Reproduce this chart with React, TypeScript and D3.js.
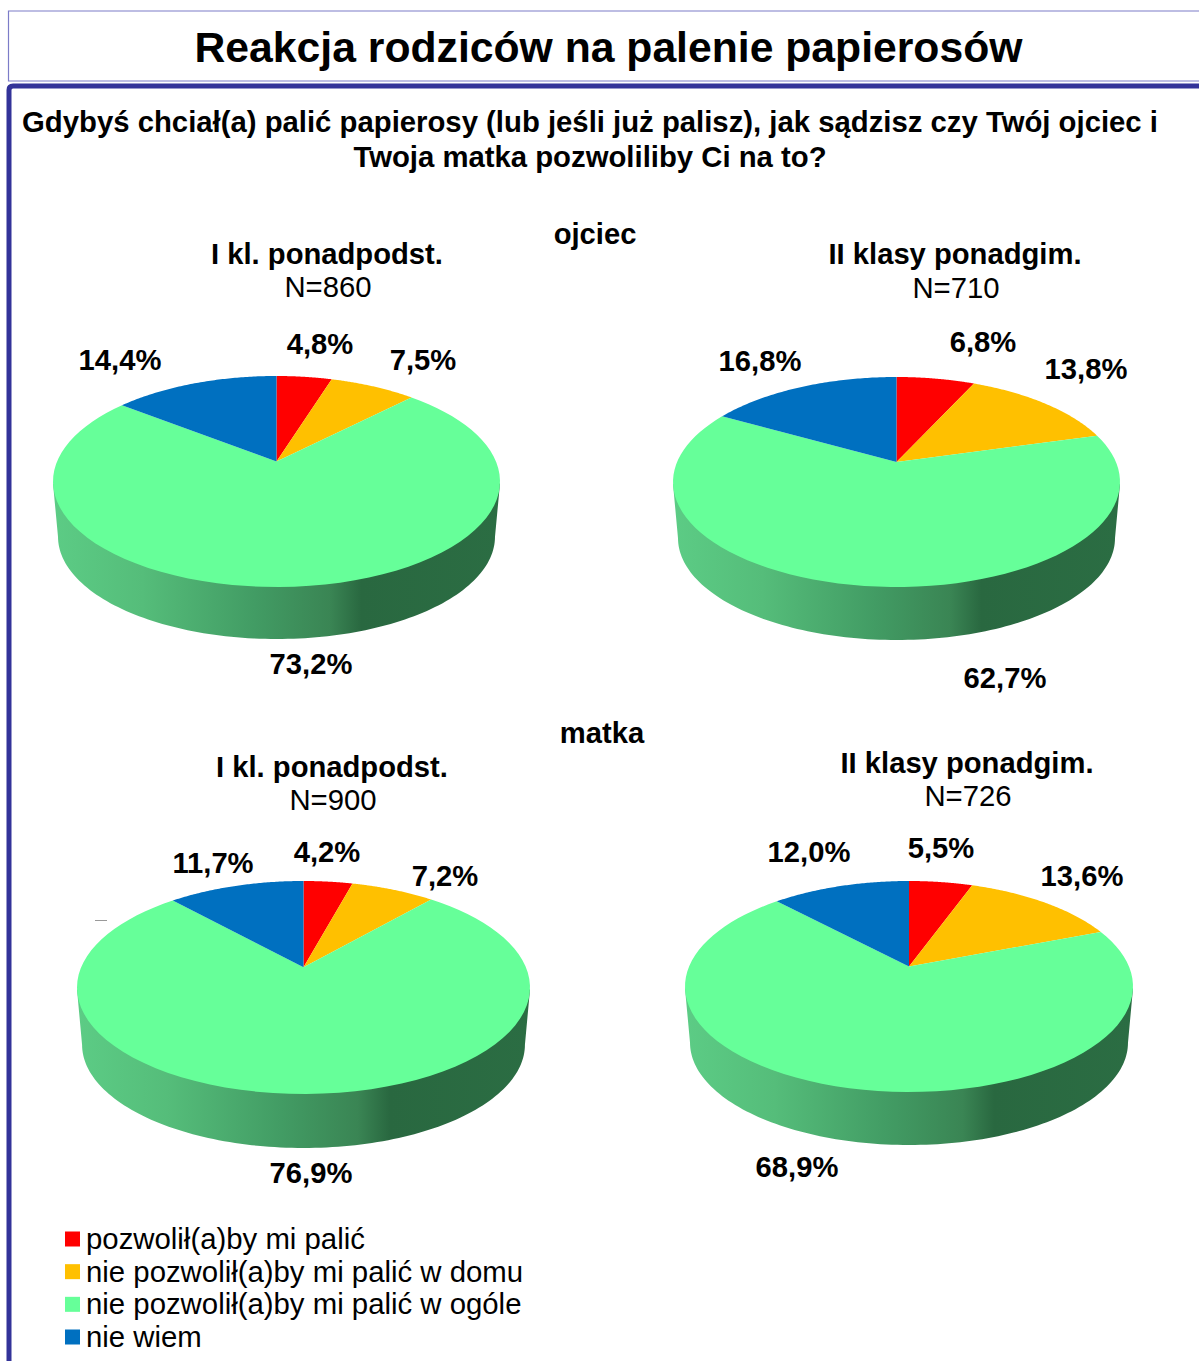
import React from "react";
import * as d3 from "d3";

const FONT = "'Liberation Sans', Arial, sans-serif";
const W = 1199;
const H = 1361;

const categories = ["pozwolił(a)by mi palić", "nie pozwolił(a)by mi palić w domu", "nie pozwolił(a)by mi palić w ogóle", "nie wiem"];
const colors = ["#ff0000", "#ffc000", "#66ff99", "#0070c0"];

const fatherPrimary = [4.8, 7.5, 73.2, 14.4];
const fatherSecondary = [6.8, 13.8, 62.7, 16.8];
const motherPrimary = [4.2, 7.2, 76.9, 11.7];
const motherSecondary = [5.5, 13.6, 68.9, 12.0];

const fmt = (v: number) => v.toFixed(1).replace(".", ",") + "%";

type Pt = [number, number];
type PieCfg = {
  id: string; values: number[]; left: number; right: number; top: number; faceBottom: number; bottom: number;
  title: string; titleX: number; titleY: number; n: string; nY: number; labels: Pt[];
};

const pies: PieCfg[] = [
  { id: "p1", values: fatherPrimary, left: 53, right: 500, top: 376, faceBottom: 587, bottom: 639,
    title: "I kl. ponadpodst.", titleX: 327, titleY: 264, n: "N=860", nY: 297,
    labels: [[320, 354], [423, 370], [311, 674], [120, 370]] },
  { id: "p2", values: fatherSecondary, left: 673, right: 1120, top: 377, faceBottom: 587, bottom: 640,
    title: "II klasy ponadgim.", titleX: 955, titleY: 264, n: "N=710", nY: 298,
    labels: [[983, 352], [1086, 379], [1005, 688], [760, 371]] },
  { id: "p3", values: motherPrimary, left: 77, right: 530, top: 881, faceBottom: 1094, bottom: 1148,
    title: "I kl. ponadpodst.", titleX: 332, titleY: 777, n: "N=900", nY: 810,
    labels: [[327, 862], [445, 886], [311, 1183], [213, 873]] },
  { id: "p4", values: motherSecondary, left: 685, right: 1133, top: 881, faceBottom: 1092, bottom: 1145,
    title: "II klasy ponadgim.", titleX: 967, titleY: 773, n: "N=726", nY: 806,
    labels: [[941, 858], [1082, 886], [797, 1177], [809, 862]] },
];

const LEAN = 0.19;
const order = [0, 1, 2, 3];

function Pie3D({ cfg }: { cfg: PieCfg }) {
  const cy = (cfg.top + cfg.faceBottom) / 2;
  const x = d3.scaleLinear().domain([-1, 1]).range([cfg.left, cfg.right]);
  const y = d3.scaleLinear().domain([-1, 1]).range([cfg.top, cfg.faceBottom]);
  const project = (t: number): Pt => {
    const u = Math.sin(t), v = -Math.cos(t);
    const d = 1 - LEAN * v;
    return [x((u * Math.sqrt(1 - LEAN * LEAN)) / d), y((v - LEAN) / d)];
  };
  const apex: Pt = [x(0), y(-LEAN)];
  const line = d3.line<Pt>();
  const arcs = d3.pie<number>().sort(null).value((v) => v)(cfg.values);

  const sliceD = (a: d3.PieArcDatum<number>) => {
    const span = d3.range(0, 81).map((i) => project(a.startAngle + ((a.endAngle - a.startAngle) * i) / 80));
    return line([apex, ...span]) + "Z";
  };

  const inset = (cfg.right - cfg.left) * 0.0112;
  const wx = d3.scaleLinear().domain([-1, 1]).range([cfg.left + inset, cfg.right - inset]);
  const wallRy = ((cfg.faceBottom - cfg.top) / 2) * 0.97;
  const wallCy = cfg.bottom - wallRy;
  const lower: Pt[] = d3.range(0, 121).map((i) => {
    const t = Math.PI * (i / 120);
    return [wx(-Math.cos(t)), wallCy + wallRy * Math.sin(t)];
  });
  const wallD = line([[cfg.left, cy + 2], ...lower, [cfg.right, cy + 2]]) + "Z";

  return (
    <g>
      <defs>
        <linearGradient id={"wall-" + cfg.id} gradientUnits="userSpaceOnUse" x1={cfg.left} x2={cfg.right} y1="0" y2="0">
          <stop offset="0" stopColor="#5ccc85" />
          <stop offset="0.2" stopColor="#55bd7a" />
          <stop offset="0.45" stopColor="#429c64" />
          <stop offset="0.62" stopColor="#3a8554" />
          <stop offset="0.69" stopColor="#296840" />
          <stop offset="1" stopColor="#2b6d43" />
        </linearGradient>
      </defs>
      <path d={wallD ?? ""} fill={`url(#wall-${cfg.id})`} />
      {arcs.map((a) => (
        <path key={a.index} d={sliceD(a)} fill={colors[order[a.index]]} />
      ))}
      <text x={cfg.titleX} y={cfg.titleY} textAnchor="middle" fontWeight="bold" fontSize={29.2}>{cfg.title}</text>
      <text x={cfg.titleX + 1} y={cfg.nY} textAnchor="middle" fontSize={29.3}>{cfg.n}</text>
      {cfg.values.map((v, i) => (
        <text key={i} x={cfg.labels[i][0]} y={cfg.labels[i][1]} textAnchor="middle" fontWeight="bold" fontSize={29.2}>{fmt(v)}</text>
      ))}
    </g>
  );
}

export default function App() {
  const legendY = d3.scaleLinear().domain([0, 3]).range([1239, 1337]);
  return (
    <svg width={W} height={H} viewBox={`0 0 ${W} ${H}`} fontFamily={FONT} fill="#000"
      style={{ position: "absolute", left: 0, top: 0, display: "block" }}>
      <rect width={W} height={H} fill="#fff" />
      <path d="M1199 11H8.5V81H1199" fill="none" stroke="#7c7cc8" strokeWidth={1.2} />
      <path d="M9 1361V90Q9 86 13 86H1199" fill="none" stroke="#333399" strokeWidth={5} />
      <text x={608.5} y={62} textAnchor="middle" fontWeight="bold" fontSize={42.7}>Reakcja rodziców na palenie papierosów</text>
      <text x={590} y={132} textAnchor="middle" fontWeight="bold" fontSize={29.3}>Gdybyś chciał(a) palić papierosy (lub jeśli już palisz), jak sądzisz czy Twój ojciec i</text>
      <text x={590} y={167} textAnchor="middle" fontWeight="bold" fontSize={29.3}>Twoja matka pozwoliliby Ci na to?</text>
      <text x={595} y={244} textAnchor="middle" fontWeight="bold" fontSize={29.2}>ojciec</text>
      <text x={602} y={743} textAnchor="middle" fontWeight="bold" fontSize={29.2}>matka</text>
      {pies.map((p) => <Pie3D key={p.id} cfg={p} />)}
      <path d="M95 920.5H107" stroke="#999" strokeWidth={1} />
      {categories.map((c, i) => (
        <g key={c}>
          <rect x={65} y={legendY(i) - 7.5} width={15} height={15} fill={colors[i]} />
          <text x={86} y={legendY(i) + 10} fontSize={29.35}>{c}</text>
        </g>
      ))}
    </svg>
  );
}
